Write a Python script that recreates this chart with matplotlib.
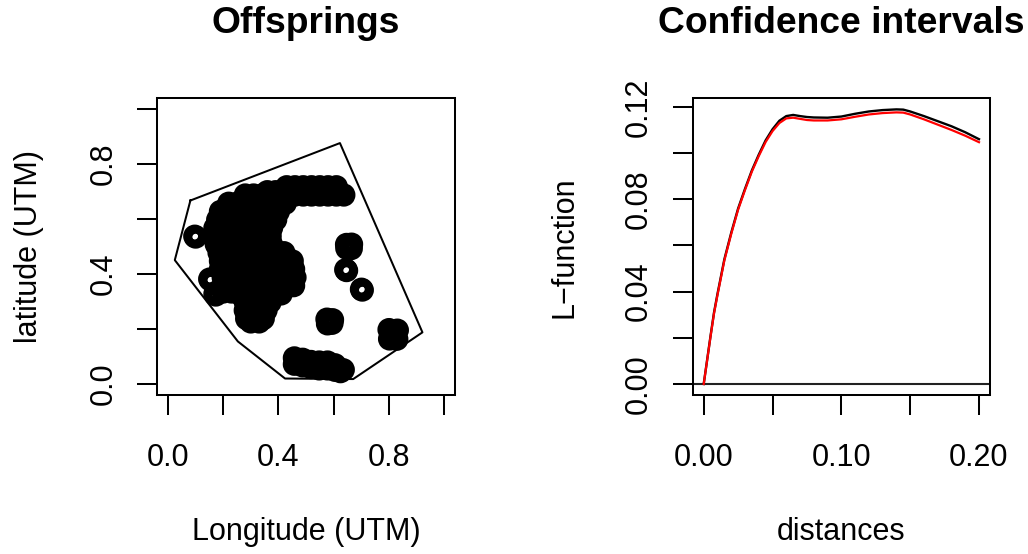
import matplotlib
matplotlib.use("Agg")
import matplotlib.pyplot as plt

plt.rcParams["font.family"] = ["Liberation Sans", "DejaVu Sans"]

# ---- left panel: offspring locations (Longitude, latitude) ----
# main blob + upper arc, written row by row: latitude -> longitudes
main_rows = {
    0.718: [0.43, 0.46, 0.49, 0.52, 0.55, 0.58, 0.61],
    0.700: [0.36, 0.39],
    0.688: [0.28, 0.31, 0.34, 0.37, 0.40, 0.43, 0.46, 0.49, 0.52, 0.55, 0.58, 0.61, 0.637],
    0.658: [0.22, 0.25, 0.28, 0.31, 0.34, 0.37, 0.40, 0.425],
    0.628: [0.19, 0.22, 0.25, 0.28, 0.31, 0.34, 0.37, 0.40],
    0.598: [0.18, 0.21, 0.24, 0.27, 0.30, 0.33, 0.36, 0.39],
    0.568: [0.17, 0.20, 0.23, 0.26, 0.29, 0.32, 0.35, 0.375],
    0.538: [0.17, 0.20, 0.23, 0.26, 0.29, 0.32, 0.35, 0.37],
    0.508: [0.175, 0.205, 0.235, 0.265, 0.295, 0.325, 0.355, 0.375],
    0.478: [0.185, 0.215, 0.245, 0.275, 0.305, 0.335, 0.365, 0.395, 0.42],
    0.448: [0.19, 0.22, 0.25, 0.28, 0.31, 0.34, 0.37, 0.40, 0.43, 0.45],
    0.418: [0.19, 0.215, 0.245, 0.275, 0.305, 0.335, 0.365, 0.395, 0.425, 0.455],
    0.388: [0.20, 0.22, 0.25, 0.28, 0.31, 0.34, 0.37, 0.40, 0.43, 0.46],
    0.358: [0.205, 0.23, 0.26, 0.29, 0.32, 0.35, 0.38, 0.41, 0.44, 0.455],
    0.335: [0.20, 0.23],
    0.328: [0.26, 0.29, 0.32, 0.35, 0.38, 0.41],
    0.298: [0.28, 0.31, 0.34, 0.37],
    0.268: [0.28, 0.31, 0.34, 0.355],
    0.238: [0.285, 0.315, 0.345],
    0.226: [0.30, 0.33],
}

bottom_x = [0.458, 0.458, 0.488, 0.488, 0.518, 0.518, 0.548, 0.548, 0.578, 0.578, 0.605, 0.605, 0.635, 0.625]
bottom_y = [0.095, 0.072, 0.090, 0.066, 0.082, 0.060, 0.080, 0.055, 0.080, 0.055, 0.070, 0.050, 0.052, 0.045]

small_x = [0.576, 0.596, 0.578, 0.594, 0.586,      # cluster near (0.59, 0.23)
           0.647, 0.665, 0.648, 0.664,             # cluster near (0.66, 0.50)
           0.644, 0.647,                           # ring near (0.64, 0.41)
           0.701, 0.704,                           # ring near (0.70, 0.34)
           0.801, 0.831, 0.803, 0.829, 0.816,      # cluster near (0.82, 0.18)
           0.097, 0.100,                           # ring at far left
           0.151, 0.155, 0.170, 0.173]             # rings on left edge of blob
small_y = [0.236, 0.234, 0.219, 0.221, 0.228,
           0.508, 0.509, 0.494, 0.493,
           0.416, 0.413,
           0.345, 0.342,
           0.198, 0.196, 0.164, 0.163, 0.181,
           0.538, 0.535,
           0.382, 0.378, 0.328, 0.324]

hull_x = [0.081, 0.623, 0.922, 0.671, 0.424, 0.253, 0.0245]
hull_y = [0.668, 0.877, 0.188, 0.018, 0.020, 0.155, 0.451]

# ---- right panel: L-function ----
dist = [0.0, 0.0025, 0.005, 0.0075, 0.01, 0.015, 0.02, 0.025, 0.03, 0.035, 0.04,
        0.045, 0.05, 0.055, 0.06, 0.065, 0.07, 0.075, 0.08, 0.09, 0.10, 0.11,
        0.12, 0.13, 0.14, 0.145, 0.15, 0.16, 0.17, 0.18, 0.19, 0.20]
l_black = [0.0, 0.0105, 0.021, 0.031, 0.039, 0.054, 0.0655, 0.076, 0.0845, 0.0925, 0.0993,
           0.1055, 0.1103, 0.1140, 0.1160, 0.1165, 0.1160, 0.1156, 0.1154, 0.1153, 0.1158, 0.1170,
           0.1180, 0.1186, 0.1189, 0.1188, 0.1180, 0.1160, 0.1138, 0.1116, 0.1090, 0.1060]
l_red = [0.0, 0.0103, 0.0207, 0.0306, 0.0385, 0.0535, 0.065, 0.0755, 0.084, 0.092, 0.0987,
         0.1048, 0.1095, 0.1130, 0.1150, 0.1153, 0.1148, 0.1143, 0.1141, 0.1141, 0.1146, 0.1157,
         0.1167, 0.1173, 0.1176, 0.1175, 0.1167, 0.1146, 0.1123, 0.1100, 0.1075, 0.1047]

off_x, off_y = [], []
for lat, lons in main_rows.items():
    off_x += lons
    off_y += [lat] * len(lons)
off_x += bottom_x + small_x
off_y += bottom_y + small_y

W, H = 1028, 554
fig = plt.figure(figsize=(W / 100, H / 100), dpi=100)


def axes_px(left, top, right, bottom):
    return fig.add_axes([left / W, 1 - bottom / H, (right - left) / W, (bottom - top) / H])


ax1 = axes_px(157, 98.3, 455, 395)
ax2 = axes_px(692.7, 98.3, 990, 395)

LW = 1.45
FS = 22

ax1.scatter(off_x, off_y, s=116, facecolors="none", edgecolors="black", linewidths=6)
ax1.plot(hull_x + hull_x[:1], hull_y + hull_y[:1], color="black", lw=LW)
ax1.set_xlim(-0.04, 1.04)
ax1.set_ylim(-0.04, 1.04)
ax1.set_xticks([0, 0.2, 0.4, 0.6, 0.8, 1.0])
ax1.set_xticklabels(["0.0", "", "0.4", "", "0.8", ""])
ax1.set_yticks([0, 0.2, 0.4, 0.6, 0.8, 1.0])
ax1.set_yticklabels(["0.0", "", "0.4", "", "0.8", ""], rotation=90, va="center")

ax2.axhline(0, color="#222222", lw=1.5)
ax2.plot(dist, l_black, color="black", lw=1.7)
ax2.plot(dist, l_red, color="red", lw=1.6)
ax2.set_xlim(-0.008, 0.208)
ax2.set_ylim(-0.00476, 0.1237)
ax2.set_xticks([0, 0.05, 0.10, 0.15, 0.20])
ax2.set_xticklabels(["0.00", "", "0.10", "", "0.20"])
ax2.set_yticks([0, 0.02, 0.04, 0.06, 0.08, 0.10, 0.12])
ax2.set_yticklabels(["0.00", "", "0.04", "", "0.08", "", "0.12"], rotation=90, va="center")

for ax in (ax1, ax2):
    for sp in ax.spines.values():
        sp.set_linewidth(LW)
    ax.tick_params(direction="out", length=14.4, width=LW, labelsize=FS)
    ax.tick_params(axis="x", pad=20)
    ax.tick_params(axis="y", pad=13.4)

# titles and axis labels
fig.text(306 / W, 1 - 33 / H, "Offsprings", ha="center", va="baseline",
         fontsize=26.8, fontweight="bold")
fig.text(841 / W, 1 - 33 / H, "Confidence intervals", ha="center", va="baseline",
         fontsize=26.8, fontweight="bold")
fig.text(306 / W, 1 - 540 / H, "Longitude (UTM)", ha="center", va="baseline", fontsize=FS)
fig.text(841 / W, 1 - 540 / H, "distances", ha="center", va="baseline", fontsize=FS)
fig.text(37 / W, 1 - 246.7 / H, "latitude (UTM)", rotation=90, rotation_mode="anchor",
         ha="center", va="baseline", fontsize=FS)
fig.text(572.5 / W, 1 - 246.7 / H, "L\u2212function", rotation=90, rotation_mode="anchor",
         ha="center", va="baseline", fontsize=FS)

fig.savefig("out.png", dpi=100)
